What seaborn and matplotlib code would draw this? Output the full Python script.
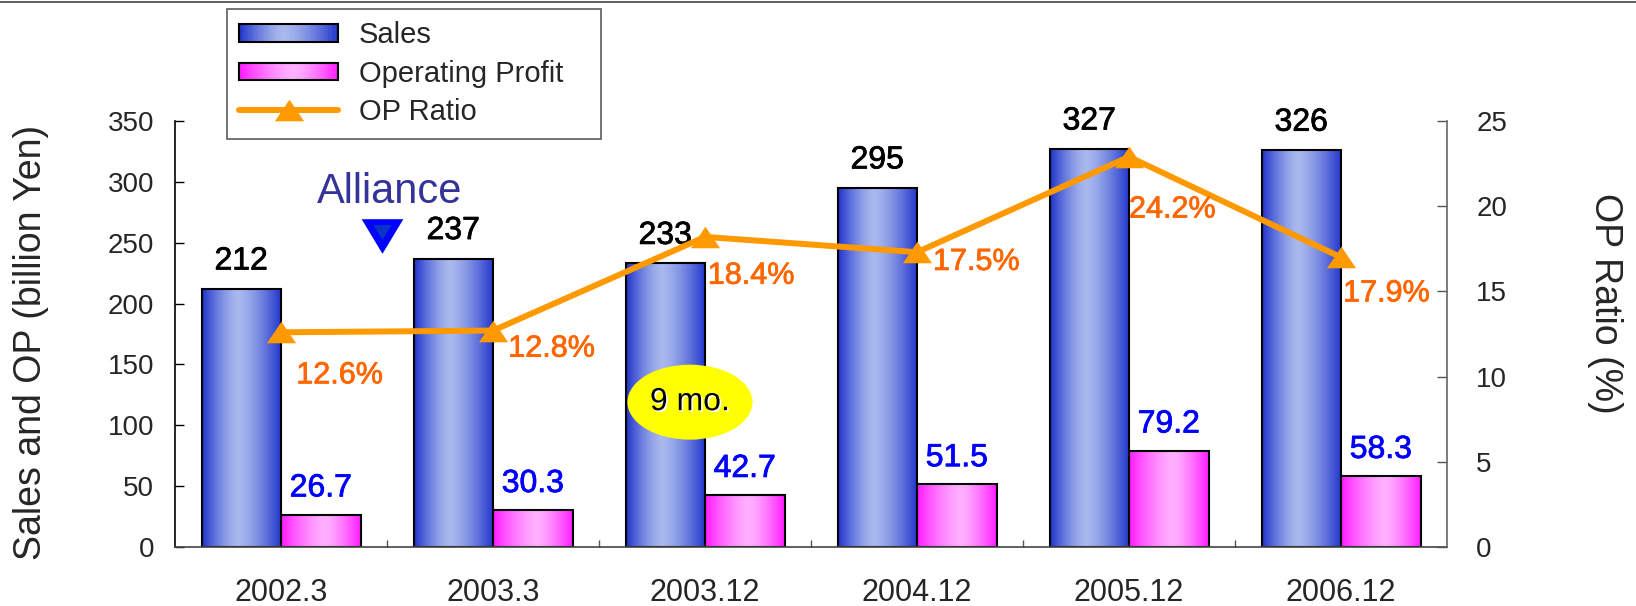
import numpy as np
import pandas as pd
import matplotlib
matplotlib.use("Agg")
import matplotlib.pyplot as plt
import matplotlib.patheffects as pe
from matplotlib.patches import Rectangle, Ellipse
from matplotlib.lines import Line2D
from matplotlib.legend_handler import HandlerBase
import seaborn as sns

# ---------------- data ----------------
periods = ["2002.3", "2003.3", "2003.12", "2004.12", "2005.12", "2006.12"]
sales = [212, 237, 233, 295, 327, 326]
op_profit = [26.7, 30.3, 42.7, 51.5, 79.2, 58.3]
op_ratio = [12.6, 12.8, 18.4, 17.5, 24.2, 17.9]          # as labelled
op_ratio_drawn = [12.6, 12.7, 18.2, 17.3, 22.9, 17.0]    # where the line sits in the picture
left_ticks = [0, 50, 100, 150, 200, 250, 300, 350]
right_ticks = [0, 5, 10, 15, 20, 25]
series_names = ["Sales", "Operating Profit", "OP Ratio"]

# ---------------- style ----------------
sns.set_style("white")
plt.rcParams["font.family"] = ["Liberation Sans", "DejaVu Sans"]

SALES_DARK = np.array([0x1F, 0x33, 0xCC]) / 255
SALES_LIGHT = np.array([0xA9, 0xB9, 0xEE]) / 255
OP_DARK = np.array([0xFF, 0x1A, 0xFF]) / 255
OP_LIGHT = np.array([0xFF, 0xB0, 0xFF]) / 255
ORANGE = "#FF9900"
LABEL_ORANGE = "#FF6600"


def grad_colors(n, dark, light, peak, gamma=1.4):
    t = (np.arange(n) + 0.5) / n
    f = np.where(t < peak, (peak - t) / peak, (t - peak) / (1 - peak))
    f = np.clip(f, 0, 1) ** gamma
    return light[None, :] * (1 - f[:, None]) + dark[None, :] * f[:, None]


def heavy(color, lw=0.55):
    return [pe.withStroke(linewidth=lw, foreground=color)]


fig = plt.figure(figsize=(16.36, 6.06), dpi=100)
ax = fig.add_axes([175 / 1636, 1 - 547 / 606, 1272 / 1636, 426 / 606])

df = pd.DataFrame({
    "period": periods * 2,
    "series": [series_names[0]] * len(periods) + [series_names[1]] * len(periods),
    "value": sales + op_profit,
})
sns.barplot(data=df, x="period", y="value", hue="series",
            palette=["#3344CC", "#FF44FF"], width=0.75, saturation=1,
            edgecolor="black", linewidth=1.5, legend=False, ax=ax)

grads = [(SALES_DARK, SALES_LIGHT, 0.45), (OP_DARK, OP_LIGHT, 0.55)]
for cont, (dk, lt, pk) in zip(ax.containers, grads):
    cols = grad_colors(64, dk, lt, pk)
    for p in cont.patches:
        x0, w, h = p.get_x(), p.get_width(), p.get_height()
        im = ax.imshow(cols[None, :, :], extent=[x0, x0 + w, 0, h],
                       aspect="auto", zorder=p.get_zorder() - 0.01,
                       interpolation="bilinear")
        im.set_clip_path(p)
        p.set_facecolor("none")

ax.set_xlim(-0.5, 5.5)
ax.set_ylim(0, 350)
ax.set_yticks(left_ticks)
ax.set_xlabel("")
ax.set_ylabel("Sales and OP (billion Yen)", fontsize=27)
ax.yaxis.set_label_coords(-0.113, 0.48)
ax.yaxis.label.set_va("center")

ax.tick_params(axis="y", direction="in", length=6.5, width=1, labelsize=20,
               pad=15, color="black", left=True)
ax.set_xticks(range(len(periods)))
ax.set_xticklabels(periods)
ax.tick_params(axis="x", which="major", length=0, labelsize=22, pad=22)
ax.set_xticks(np.arange(0.5, len(periods) - 1, 1), minor=True)
ax.tick_params(axis="x", which="minor", direction="in", length=5, width=1,
               color="#555555", bottom=True)

for s in ["top", "right"]:
    ax.spines[s].set_visible(False)
ax.spines["left"].set_color("black")
ax.spines["left"].set_linewidth(1.2)
ax.spines["bottom"].set_color("#444444")
ax.spines["bottom"].set_linewidth(1.2)

# value labels for bars
off = 0.75 / 4
for i, (s, o) in enumerate(zip(sales, op_profit)):
    ax.annotate(f"{s}", (i - off, s), xytext=(0, 9), textcoords="offset points",
                ha="center", va="bottom", fontsize=23, color="black",
                path_effects=heavy("black"))
    ax.annotate(f"{o}", (i + off, o), xytext=(0, 8), textcoords="offset points",
                ha="center", va="bottom", fontsize=23, color="#0000FF",
                path_effects=heavy("#0000FF"))

# Alliance marker and text
ax.text(0.514, 292, "Alliance", ha="center", va="center", fontsize=30,
        color="#333399")
tri_down = [(-1, 0.83), (1, 0.83), (0, -0.83)]
ax.plot([0.476], [255.5], marker=tri_down, markersize=30, color="#0000FF",
        markeredgewidth=0, linestyle="none", zorder=5)
ax.plot([0.476], [259], marker=tri_down, markersize=13, color="#0A33C8",
        markeredgewidth=0, linestyle="none", zorder=6)

# 9 mo. bubble
ell = Ellipse((1.929, 119), width=0.59, height=61.6, facecolor="#FFFF00",
              edgecolor="none", zorder=6)
ax.add_patch(ell)
ax.text(1.929, 119, "9 mo.", ha="center", va="center", fontsize=23,
        color="black", zorder=7,
        path_effects=[pe.withSimplePatchShadow(offset=(1.2, -1.2),
                                               shadow_rgbFace="white",
                                               alpha=1.0)])

# OP ratio line on twin axis
ax2 = ax.twinx()
tri_up = [(0, 0.74), (-1, -0.74), (1, -0.74)]
sns.lineplot(x=np.arange(len(periods)), y=op_ratio_drawn, ax=ax2, color=ORANGE,
             linewidth=4.3, marker=tri_up, markersize=21, markeredgewidth=0,
             markerfacecolor=ORANGE, legend=False, zorder=8)
ax2.set_ylim(0, 25)
ax2.set_xlim(-0.5, 5.5)
ax2.set_yticks(right_ticks)
ax2.tick_params(axis="y", direction="in", length=7, width=1, labelsize=20,
                pad=21, color="#555555", right=True)
ax2.set_ylabel("OP Ratio (%)", fontsize=27, rotation=270)
ax2.yaxis.set_label_coords(1.124, 0.573)
ax2.yaxis.label.set_va("center")
ax2.yaxis.label.set_ha("center")
for s in ["top", "left", "bottom"]:
    ax2.spines[s].set_visible(False)
ax2.spines["right"].set_color("#666666")
ax2.spines["right"].set_linewidth(1.2)

ratio_offsets = [(11, -31), (11, -13), (2, -28), (11.5, -7), (0, -38), (1.5, -26)]
for i, (v, d, (dx, dy)) in enumerate(zip(op_ratio, op_ratio_drawn, ratio_offsets)):
    ax2.annotate(f"{v}%", (i, d), xytext=(dx, dy), textcoords="offset points",
                 ha="left", va="center", fontsize=22, color=LABEL_ORANGE, zorder=9,
                 path_effects=heavy(LABEL_ORANGE))


# legend with gradient handles
class GradHandler(HandlerBase):
    def __init__(self, dark, light, peak):
        super().__init__()
        self.cols = grad_colors(40, dark, light, peak)

    def create_artists(self, legend, orig_handle, xdescent, ydescent, width,
                       height, fontsize, trans):
        arts = []
        n = len(self.cols)
        h = height * 0.95
        y0 = -ydescent + (height - h) / 2
        for k in range(n):
            arts.append(Rectangle((-xdescent + width * k / n, y0), width / n * 1.08,
                                  h, facecolor=self.cols[k], edgecolor="none",
                                  transform=trans))
        arts.append(Rectangle((-xdescent, y0), width, h, facecolor="none",
                              edgecolor="black", linewidth=1.5, transform=trans))
        return arts


h_sales = Rectangle((0, 0), 1, 1)
h_op = Rectangle((0, 0), 1, 1)
h_line = Line2D([], [], color=ORANGE, linewidth=4.3, marker=tri_up,
                markersize=21, markeredgewidth=0)
leg = fig.legend([h_sales, h_op, h_line], series_names,
                 loc="upper left",
                 bbox_to_anchor=(227 / 1636, 1 - 128 / 606, 374 / 1636, 119 / 606),
                 bbox_transform=fig.transFigure, mode="expand",
                 borderaxespad=0, fontsize=21, handlelength=3.4,
                 handleheight=0.62, handletextpad=0.7, labelspacing=0.36,
                 borderpad=0.42, fancybox=False, frameon=True,
                 handler_map={h_sales: GradHandler(SALES_DARK, SALES_LIGHT, 0.45),
                              h_op: GradHandler(OP_DARK, OP_LIGHT, 0.55)})
leg.get_frame().set_edgecolor("#333333")
leg.get_frame().set_linewidth(1.2)

# thin rule at the top of the figure
fig.add_artist(Line2D([0, 1], [1 - 1.5 / 606, 1 - 1.5 / 606],
                      transform=fig.transFigure, color="#555555", linewidth=1.3))

fig.savefig("out.png", dpi=100)
